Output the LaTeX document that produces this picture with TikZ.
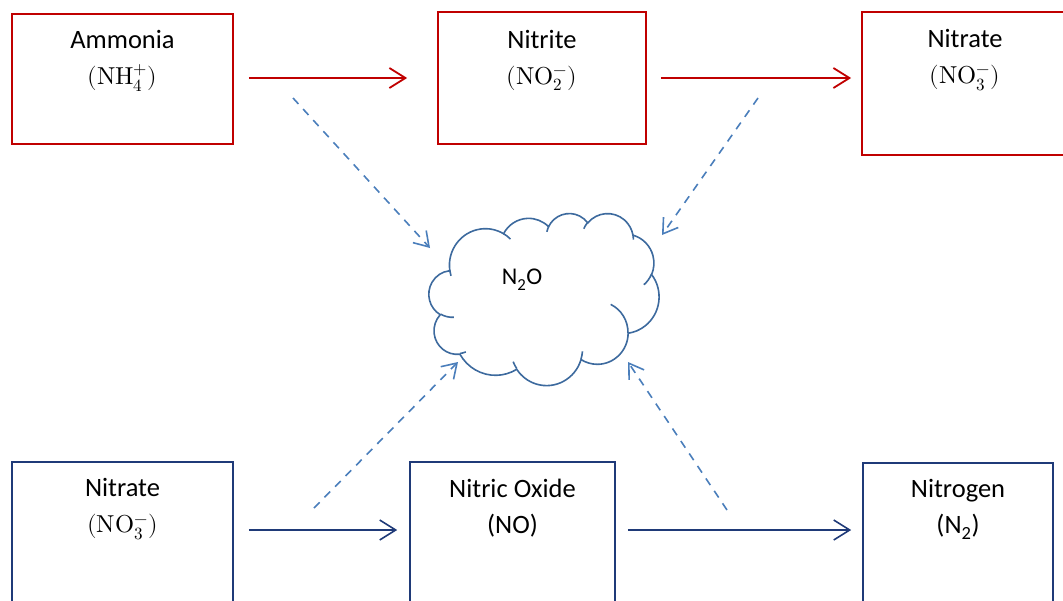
\documentclass[tikz,border=0pt]{standalone}
\usepackage{fontspec}
\usepackage{unicode-math}
\setmainfont{Carlito}
\setmathfont{Latin Modern Math}
\usetikzlibrary{arrows.meta}

\definecolor{oxred}{HTML}{C00000}
\definecolor{rednavy}{HTML}{1F3A78}
\definecolor{cloudline}{HTML}{3D6A9E}
\definecolor{dashblue}{HTML}{4A7EBB}

\tikzset{
  redbox/.style={draw=oxred, line width=1.8pt, fill=white, inner sep=0pt},
  bluebox/.style={draw=rednavy, line width=1.6pt, fill=white, inner sep=0pt},
  boxtext/.style={align=center, inner sep=0pt, font=\fontsize{26.5}{36}\selectfont},
  redflow/.style={draw=oxred, line width=1.8pt, -{Straight Barb[length=16pt,width=20pt,line width=1.8pt]}},
  blueflow/.style={draw=rednavy, line width=1.6pt, -{Straight Barb[length=16pt,width=20pt,line width=1.6pt]}},
  leak/.style={draw=dashblue, line width=1.6pt, dash pattern=on 8pt off 7pt,
    -{Straight Barb[length=14pt,width=18pt,line width=1.6pt]}},
  puff/.style={draw=cloudline, line width=1.6pt},
}

% chemical formula set a little smaller than the label text
\newcommand\chem[1]{{\fontsize{24.5}{36}\selectfont$#1$}}

% elliptical arc given by its visual start angle and sweep:
% stores the matching parametric start angle and delta under a name
\newcommand\puffarc[5]{%
  \pgfmathsetmacro\pfS{atan2((#2)*sin(#4),(#3)*cos(#4))}%
  \pgfmathsetmacro\pfE{atan2((#2)*sin((#4)+(#5)),(#3)*cos((#4)+(#5)))}%
  \pgfmathsetmacro\pfD{mod(\pfE-\pfS+720,360)}%
  \expandafter\let\csname pfS#1\endcsname\pfS
  \expandafter\let\csname pfD#1\endcsname\pfD
}
\newcommand\pS[1]{\csname pfS#1\endcsname}
\newcommand\pD[1]{\csname pfD#1\endcsname}

\begin{document}
\begin{tikzpicture}[x=1pt,y=-1pt]
  \useasboundingbox (0,0) rectangle (1063,600);
  \clip (0,0) rectangle (1063,600);

  % nitrification chain (top row)
  \node[redbox, minimum width=221pt, minimum height=130pt] (amm) at (122.5,79) {};
  \node[boxtext] (ammtxt) at ([yshift=-47.5pt]amm.north) {Ammonia\\\chem{(\symup{NH}_4^{+})}};

  \node[redbox, minimum width=208pt, minimum height=132pt] (nitrite) at (542,78) {};
  \node[boxtext] (nitritetxt) at ([yshift=-49.5pt]nitrite.north) {Nitrite\\\chem{(\symup{NO}_2^{-})}};

  \node[redbox, minimum width=206pt, minimum height=143pt] (nitrateA) at (965,83.5) {};
  \node[boxtext] (nitrateAtxt) at ([yshift=-49pt]nitrateA.north) {Nitrate\\\chem{(\symup{NO}_3^{-})}};

  % denitrification chain (bottom row)
  \node[bluebox, minimum width=221pt, minimum height=150pt] (nitrateB) at (122.5,537) {};
  \node[boxtext] (nitrateBtxt) at ([yshift=-48pt]nitrateB.north) {Nitrate\\\chem{(\symup{NO}_3^{-})}};

  \node[bluebox, minimum width=205pt, minimum height=150pt] (no) at (512.5,537) {};
  \node[boxtext] (notxt) at ([yshift=-46.5pt]no.north) {Nitric Oxide\\(NO)};

  \node[bluebox, minimum width=190pt, minimum height=150pt] (ntwo) at (958,538) {};
  \node[boxtext] (ntwotxt) at ([yshift=-47pt]ntwo.north) {Nitrogen\\(N\textsubscript{2})};

  % nitrous oxide cloud: outline of eleven elliptical puffs plus inner hooks
  \puffarc{a}{675.3}{919.0}{-190.48748}{123.78053}
  \puffarc{b}{533.3}{726.7}{-144.10238}{89.94523}
  \puffarc{c}{436.5}{594.5}{-145.80792}{99.72302}
  \puffarc{d}{485.7}{659.5}{-130.98607}{117.24173}
  \puffarc{e}{533.3}{727.3}{-78.70888}{109.02692}
  \puffarc{f}{677.5}{922.0}{-46.26725}{130.26900}
  \puffarc{g}{578.5}{786.7}{0.62502}{114.03333}
  \puffarc{h}{675.2}{921.5}{22.45160}{115.17255}
  \puffarc{i}{772.0}{1054.3}{66.24263}{75.71102}
  \puffarc{j}{436.0}{591.8}{-274.94208}{146.73557}
  \puffarc{k}{434.5}{594.5}{-246.82850}{152.51885}
  \puffarc{ta}{434.5}{594.5}{86.74200}{26.42950}
  \puffarc{tb}{436.0}{591.8}{73.61047}{11.44747}
  \puffarc{tc}{675.2}{921.5}{137.62415}{14.08110}
  \puffarc{td}{675.2}{921.5}{6.45327}{15.99835}
  \puffarc{te}{578.5}{786.7}{-70.29235}{70.91737}
  \puffarc{tf}{533.3}{727.3}{30.31803}{27.75150}
  \puffarc{tg}{485.7}{659.5}{-13.74433}{14.85890}
  \puffarc{th}{485.7}{659.5}{-149.18145}{18.19537}
  \puffarc{ti}{436.5}{594.5}{-163.49427}{17.68635}
  \puffarc{tj}{675.3}{919.0}{-66.70695}{12.31935}
  \puffarc{tk}{675.3}{919.0}{157.65435}{11.85817}
  \begin{scope}[shift={(429,213)}, x=0.053241pt, y=-0.039815pt]
    \draw[puff, fill=white] (390,1437)
      arc[start angle=\pS{a}, delta angle=\pD{a}, x radius=675.3, y radius=919.0]
      arc[start angle=\pS{b}, delta angle=\pD{b}, x radius=533.3, y radius=726.7]
      arc[start angle=\pS{c}, delta angle=\pD{c}, x radius=436.5, y radius=594.5]
      arc[start angle=\pS{d}, delta angle=\pD{d}, x radius=485.7, y radius=659.5]
      arc[start angle=\pS{e}, delta angle=\pD{e}, x radius=533.3, y radius=727.3]
      arc[start angle=\pS{f}, delta angle=\pD{f}, x radius=677.5, y radius=922.0]
      arc[start angle=\pS{g}, delta angle=\pD{g}, x radius=578.5, y radius=786.7]
      arc[start angle=\pS{h}, delta angle=\pD{h}, x radius=675.2, y radius=921.5]
      arc[start angle=\pS{i}, delta angle=\pD{i}, x radius=772.0, y radius=1054.3]
      arc[start angle=\pS{j}, delta angle=\pD{j}, x radius=436.0, y radius=591.8]
      arc[start angle=\pS{k}, delta angle=\pD{k}, x radius=434.5, y radius=594.5]
      -- cycle;
    \draw[puff]
      (469.3,2617.7) arc[start angle=\pS{ta}, delta angle=\pD{ta}, x radius=434.5, y radius=594.5]
      (692.8,3489.9) arc[start angle=\pS{tb}, delta angle=\pD{tb}, x radius=436.0, y radius=591.8]
      (1647.8,3909.0) arc[start angle=\pS{tc}, delta angle=\pD{tc}, x radius=675.2, y radius=921.5]
      (2882.7,3475.1) arc[start angle=\pS{td}, delta angle=\pD{td}, x radius=675.2, y radius=921.5]
      (3412.9,2295.4) arc[start angle=\pS{te}, delta angle=\pD{te}, x radius=578.5, y radius=786.7]
      (4179.8,1535.4) arc[start angle=\pS{tf}, delta angle=\pD{tf}, x radius=533.3, y radius=727.3]
      (3832.4,542.6) arc[start angle=\pS{tg}, delta angle=\pD{tg}, x radius=485.7, y radius=659.5]
      (2907.8,395.2) arc[start angle=\pS{th}, delta angle=\pD{th}, x radius=485.7, y radius=659.5]
      (2214.1,472.0) arc[start angle=\pS{ti}, delta angle=\pD{ti}, x radius=436.5, y radius=594.5]
      (1400.0,519.2) arc[start angle=\pS{tj}, delta angle=\pD{tj}, x radius=675.3, y radius=919.0]
      (412.7,1578.9) arc[start angle=\pS{tk}, delta angle=\pD{tk}, x radius=675.3, y radius=919.0];
  \end{scope}
  \node[inner sep=0pt, font=\fontsize{24}{28}\selectfont] (ntwoo) at (522,280) {N\textsubscript{2}O};

  % process arrows
  \draw[redflow] ([xshift=15pt,yshift=1pt]amm.east) -- ([xshift=-30pt]nitrite.west);
  \draw[redflow] ([xshift=14pt]nitrite.east) -- ([xshift=-10pt,yshift=5.5pt]nitrateA.west);
  \draw[blueflow] ([xshift=15pt,yshift=7pt]nitrateB.east) -- ([xshift=-12pt,yshift=7pt]no.west);
  \draw[blueflow] ([xshift=12pt,yshift=7pt]no.east) -- ([xshift=-11pt,yshift=8pt]ntwo.west);

  % N2O leakage from each step
  \coordinate (s1) at (293,98);  \coordinate (e1) at (430,248);
  \coordinate (s2) at (758,98);  \coordinate (e2) at (662,235);
  \coordinate (s3) at (314,508); \coordinate (e3) at (458,362);
  \coordinate (s4) at (727,510); \coordinate (e4) at (628,362);
  \draw[leak] (s1) -- (e1);
  \draw[leak] (s2) -- (e2);
  \draw[leak] (s3) -- (e3);
  \draw[leak] (s4) -- (e4);
\end{tikzpicture}
\end{document}
